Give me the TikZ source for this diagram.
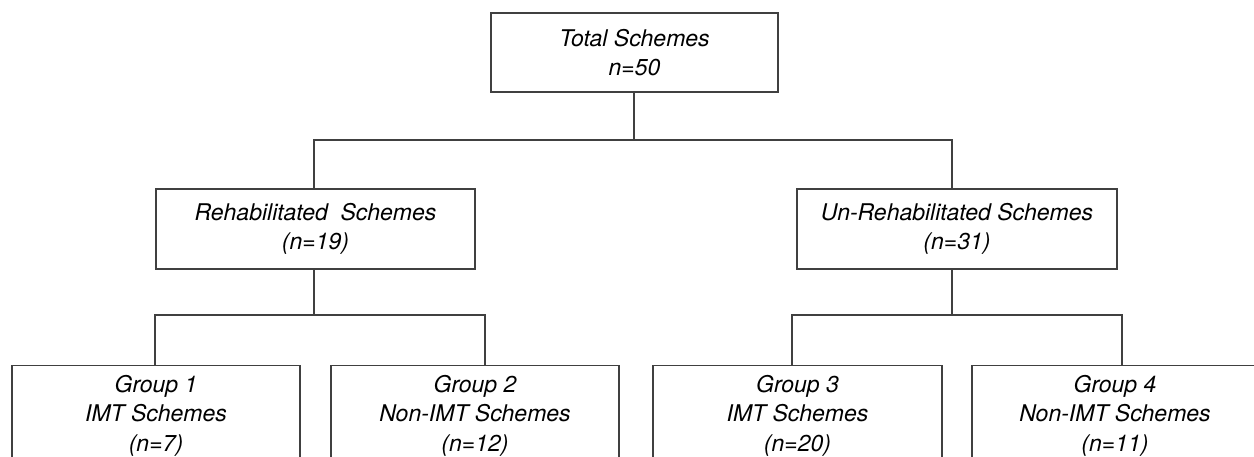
\documentclass[tikz,border=0pt]{standalone}
\usepackage{fontspec}
\setmainfont{TeX Gyre Heros}
\begin{document}
\begin{tikzpicture}[x=1pt,y=-1pt,
  box/.style={draw=black!75, line width=1.2pt, align=center, inner sep=0pt,
    font=\fontsize{23}{29.5}\selectfont\itshape},
  link/.style={draw=black!75, line width=1.2pt}]
\useasboundingbox (0,0) rectangle (1254,457);
\clip (0,0) rectangle (1254,457);
\node[box, minimum width=287, minimum height=79] (top) at (634.5,52.5) {Total Schemes\\n=50};
\node[box, minimum width=319, minimum height=80] (rehab) at (315.5,229) {Rehabilitated\ \ Schemes\\(n=19)};
\node[box, minimum width=320, minimum height=80] (unrehab) at (957,229) {Un-Rehabilitated Schemes\\(n=31)};
\node[box, anchor=north, minimum width=288, minimum height=100] (g1) at (156,365) {Group 1\\IMT Schemes\\(n=7)};
\node[box, anchor=north, minimum width=288, minimum height=100] (g2) at (475,365) {Group 2\\Non-IMT Schemes\\(n=12)};
\node[box, anchor=north, minimum width=289, minimum height=100] (g3) at (797.5,365) {Group 3\\IMT Schemes\\(n=20)};
\node[box, anchor=north, minimum width=286, minimum height=100] (g4) at (1115,365) {Group 4\\Non-IMT Schemes\\(n=11)};
\coordinate (busA) at (0,140);
\coordinate (busB) at (0,315);
\coordinate (toptop) at ([xshift=-0.5]top.south);
\coordinate (rehabtop) at ([xshift=-1.5]rehab.north);
\coordinate (rehabbot) at ([xshift=-1.5]rehab.south);
\coordinate (unrehabtop) at ([xshift=-5]unrehab.north);
\coordinate (unrehabbot) at ([xshift=-5]unrehab.south);
\coordinate (g1top) at ([xshift=-1]g1.north);
\coordinate (g2top) at ([xshift=10]g2.north);
\coordinate (g3top) at ([xshift=-5.5]g3.north);
\coordinate (g4top) at ([xshift=7]g4.north);
\draw[link] (toptop) -- (toptop |- busA);
\draw[link] (rehabtop) -- (rehabtop |- busA) -| (unrehabtop);
\draw[link] (rehabbot) -- (rehabbot |- busB);
\draw[link] (g1top) -- (g1top |- busB) -| (g2top);
\draw[link] (unrehabbot) -- (unrehabbot |- busB);
\draw[link] (g3top) -- (g3top |- busB) -| (g4top);
\end{tikzpicture}
\end{document}
